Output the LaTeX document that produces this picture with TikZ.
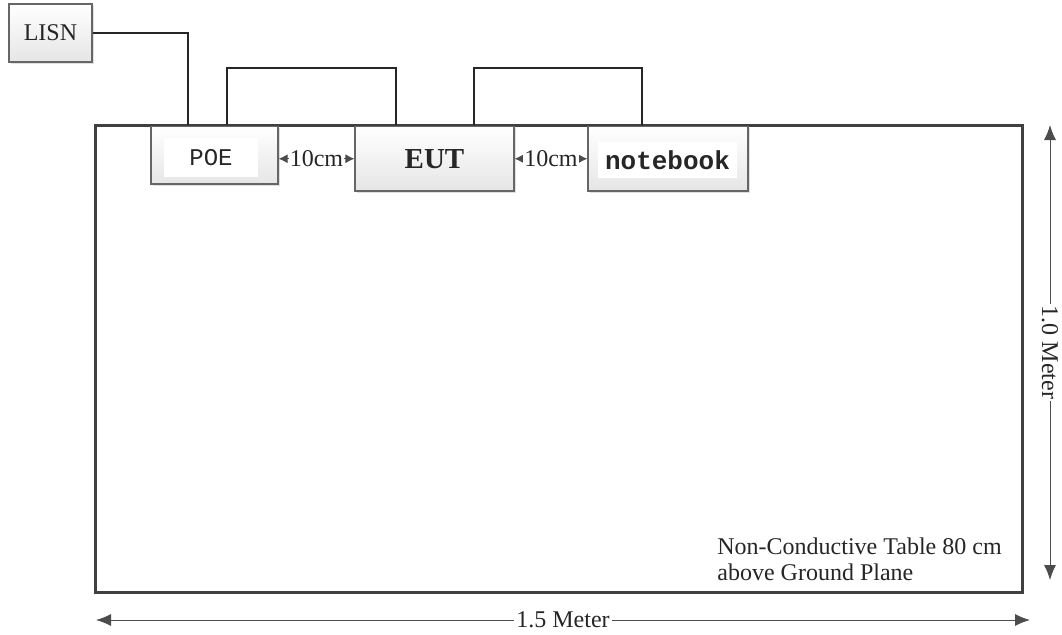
\documentclass[tikz,border=0pt]{standalone}
\usepackage{fontspec}
\setmainfont{Liberation Serif}
\setmonofont{Liberation Mono}
\usetikzlibrary{arrows.meta,shadows}
\begin{document}
\begin{tikzpicture}[x=0.5pt,y=-0.5pt,
        every node/.style={font=\fontsize{12}{13}\selectfont, text=black!85},
        box/.style={draw=black!60, line width=0.6pt, top color=white, bottom color=black!10,
            drop shadow={shadow xshift=0.8pt, shadow yshift=-0.8pt, opacity=0.25}, inner sep=0pt},
        tablebox/.style={draw=black!75, line width=1.5pt, inner sep=0pt},
        wire/.style={line width=0.7pt, black!85},
        dimline/.style={draw=black!70, line width=0.5pt,
            {Latex[length=7.5pt,width=6pt]}-{Latex[length=7.5pt,width=6pt]}},
        gap/.style={draw=black!70, line width=0.5pt,
            {Latex[length=4.5pt,width=4.5pt]}-{Latex[length=4.5pt,width=4.5pt]}}]
    \useasboundingbox (0,0) rectangle (1062,634);

    \node[tablebox, minimum width=463.5pt, minimum height=233.5pt] (table) at (558.5,358.5) {};

    \node[box, minimum width=41.5pt, minimum height=29pt] (lisn) at (50.5,33) {LISN};
    \node[box, minimum width=63.5pt, minimum height=28.75pt] (poe) at (214.5,155.25) {};
    \node[box, minimum width=79.5pt, minimum height=32.25pt,
        font=\bfseries\fontsize{14.5}{16}\selectfont] (eut) at (434.5,158.75) {EUT};
    \node[box, minimum width=80pt, minimum height=32.25pt] (nb) at (668,158.75) {};
    \node[fill=white, minimum width=47pt, minimum height=19.5pt,
        font=\ttfamily\fontsize{12}{13}\selectfont] (poetxt) at (211,157.5) {POE};
    \node[fill=white, minimum width=64.5pt, minimum height=18pt,
        font=\ttfamily\bfseries\fontsize{13}{14}\selectfont] (nbtxt) at (667.5,160) {notebook};

    \coordinate (poein) at (188,125);
    \coordinate (poeout) at (227,125);
    \coordinate (eutin) at (396,125);
    \coordinate (eutout) at (474,125);
    \coordinate (nbin) at (642,125);
    \draw[wire] (lisn.east) -| (poein);
    \draw[wire] (poeout) -- ++(0,-57) -| (eutin);
    \draw[wire] (eutout) -- ++(0,-57) -| (nbin);

    \draw[gap] (poe.east |- eut.west) -- (eut.west)
        node[midway, fill=white, inner sep=0.5pt] {10cm};
    \draw[gap] (eut.east) -- (nb.west)
        node[midway, fill=white, inner sep=0.5pt] {10cm};

    \coordinate (vtop) at (1050,125);
    \coordinate (vbot) at (1050,580);
    \coordinate (hleft) at (96,620);
    \coordinate (hright) at (1030,620);
    \draw[dimline] (vtop) -- (vbot)
        node[midway, fill=white, inner sep=1pt, rotate=-90] {1.0 Meter};
    \draw[dimline] (hleft) -- (hright)
        node[midway, fill=white, inner sep=1pt] {1.5 Meter};

    \node[anchor=north west, align=left, inner sep=0pt] (note) at (717,537.5)
        {Non-Conductive Table 80 cm\\above Ground Plane};
\end{tikzpicture}
\end{document}
